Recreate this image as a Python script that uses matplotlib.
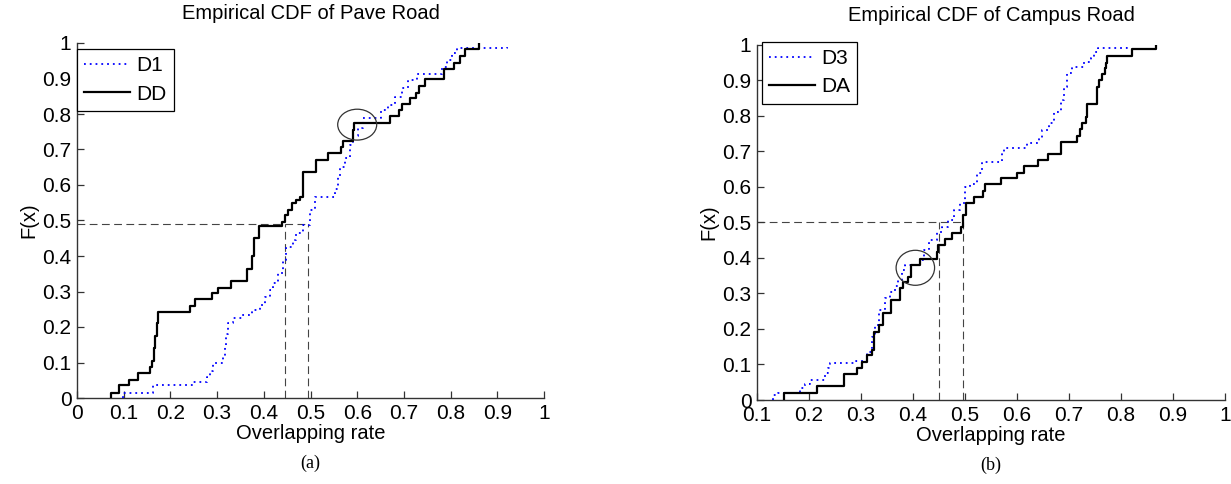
import matplotlib
matplotlib.use("Agg")
import matplotlib.pyplot as plt
from matplotlib.patches import Ellipse
from matplotlib.ticker import FuncFormatter, MultipleLocator

plt.rcParams['font.family'] = ['Liberation Sans', 'DejaVu Sans']

# ---------------- data (step points of the empirical CDFs) ----------------
# Panel (a): Pave Road
x_d1 = [0.099, 0.099, 0.163, 0.249, 0.278, 0.285, 0.292, 0.313, 0.317, 0.320,
        0.323, 0.335, 0.353, 0.374, 0.392, 0.403, 0.413, 0.420, 0.431, 0.442,
        0.448, 0.463, 0.470, 0.485, 0.499, 0.510, 0.552, 0.558, 0.563, 0.574,
        0.585, 0.592, 0.602, 0.613, 0.652, 0.667, 0.681, 0.695, 0.709, 0.727,
        0.781, 0.792, 0.802, 0.813, 0.920]
y_d1 = [0.000, 0.015, 0.037, 0.046, 0.060, 0.075, 0.098, 0.116, 0.150, 0.180,
        0.210, 0.224, 0.234, 0.248, 0.262, 0.285, 0.304, 0.323, 0.351, 0.389,
        0.426, 0.445, 0.464, 0.487, 0.530, 0.567, 0.590, 0.623, 0.652, 0.675,
        0.713, 0.738, 0.760, 0.790, 0.811, 0.825, 0.849, 0.872, 0.896, 0.913,
        0.933, 0.952, 0.971, 0.985, 0.990]

x_dd = [0.072, 0.072, 0.091, 0.112, 0.131, 0.156, 0.161, 0.165, 0.168, 0.171,
        0.174, 0.242, 0.253, 0.290, 0.301, 0.329, 0.363, 0.375, 0.378, 0.390,
        0.438, 0.445, 0.452, 0.460, 0.470, 0.477, 0.483, 0.512, 0.538, 0.565,
        0.569, 0.590, 0.593, 0.670, 0.690, 0.695, 0.713, 0.726, 0.733, 0.745,
        0.786, 0.807, 0.820, 0.831, 0.861]
y_dd = [0.000, 0.015, 0.037, 0.051, 0.070, 0.088, 0.105, 0.140, 0.175, 0.210,
        0.243, 0.259, 0.278, 0.295, 0.311, 0.330, 0.362, 0.400, 0.450, 0.485,
        0.497, 0.515, 0.530, 0.550, 0.558, 0.567, 0.637, 0.670, 0.689, 0.708,
        0.725, 0.755, 0.776, 0.794, 0.811, 0.828, 0.844, 0.860, 0.879, 0.898,
        0.928, 0.944, 0.963, 0.982, 1.000]

# Panel (b): Campus Road
x_d3 = [0.131, 0.131, 0.140, 0.183, 0.192, 0.202, 0.231, 0.236, 0.241, 0.290,
        0.311, 0.321, 0.327, 0.334, 0.347, 0.356, 0.366, 0.372, 0.379, 0.385,
        0.414, 0.422, 0.430, 0.446, 0.456, 0.468, 0.478, 0.491, 0.500, 0.510,
        0.523, 0.533, 0.571, 0.575, 0.620, 0.642, 0.649, 0.661, 0.671, 0.684,
        0.690, 0.697, 0.706, 0.728, 0.742, 0.748, 0.755, 0.812]
y_d3 = [0.000, 0.014, 0.020, 0.033, 0.045, 0.056, 0.075, 0.090, 0.103, 0.110,
        0.136, 0.178, 0.211, 0.253, 0.286, 0.305, 0.321, 0.338, 0.366, 0.380,
        0.394, 0.422, 0.450, 0.474, 0.488, 0.506, 0.535, 0.553, 0.600, 0.609,
        0.638, 0.671, 0.694, 0.708, 0.722, 0.736, 0.760, 0.778, 0.811, 0.844,
        0.881, 0.919, 0.938, 0.952, 0.961, 0.980, 0.990, 0.996]

x_da = [0.152, 0.152, 0.215, 0.268, 0.292, 0.302, 0.311, 0.321, 0.325, 0.334,
        0.342, 0.357, 0.375, 0.381, 0.390, 0.396, 0.414, 0.447, 0.449, 0.462,
        0.475, 0.492, 0.497, 0.502, 0.517, 0.534, 0.539, 0.570, 0.600, 0.613,
        0.640, 0.659, 0.684, 0.716, 0.721, 0.725, 0.732, 0.735, 0.753, 0.758,
        0.764, 0.769, 0.771, 0.774, 0.822, 0.867]
y_da = [0.000, 0.021, 0.039, 0.073, 0.089, 0.108, 0.127, 0.141, 0.192, 0.211,
        0.244, 0.281, 0.314, 0.333, 0.347, 0.380, 0.396, 0.417, 0.436, 0.452,
        0.469, 0.488, 0.520, 0.553, 0.572, 0.588, 0.608, 0.624, 0.640, 0.659,
        0.675, 0.692, 0.727, 0.743, 0.762, 0.780, 0.795, 0.833, 0.882, 0.900,
        0.917, 0.933, 0.949, 0.968, 0.987, 1.000]

# guide lines (median markers) and highlight circles
a_level = 0.49
a_marks = [0.445, 0.495]
a_circle = (0.600, 0.770, 0.0835, 0.087)
b_level = 0.50
b_marks = [0.450, 0.497]
b_circle = (0.4045, 0.372, 0.074, 0.0985)

titles = ["Empirical CDF of Pave Road", "Empirical CDF of Campus Road"]
captions = ["(a)", "(b)"]
xlims = [(0.0, 1.0), (0.1, 1.0)]

# ---------------- figure ----------------
W, H = 1231, 484
fig = plt.figure(figsize=(W / 100, H / 100), dpi=100)
axA = fig.add_axes([77 / W, (H - 398) / H, 467 / W, 355 / H])
axB = fig.add_axes([757 / W, (H - 400) / H, 468 / W, 355.4 / H])

FS = 14.5
spine_c = '#333333'
guide_c = '#444444'
fmt = FuncFormatter(lambda v, p: ('%g' % round(v, 2)))


def style(ax, xlim, title, caption):
    ax.set_xlim(*xlim)
    ax.set_ylim(0, 1)
    ax.xaxis.set_major_locator(MultipleLocator(0.1))
    ax.yaxis.set_major_locator(MultipleLocator(0.1))
    ax.xaxis.set_major_formatter(fmt)
    ax.yaxis.set_major_formatter(fmt)
    for s in ['top', 'right']:
        ax.spines[s].set_visible(False)
    for s in ['left', 'bottom']:
        ax.spines[s].set_color(spine_c)
        ax.spines[s].set_linewidth(1.0)
    ax.tick_params(direction='in', length=5, width=0.9, color=spine_c,
                   labelsize=15, pad=4)
    ax.set_title(title, fontsize=FS, pad=17)
    ax.set_xlabel("Overlapping rate", fontsize=FS, labelpad=1)
    ax.set_ylabel("F(x)", fontsize=FS, labelpad=3)
    ax.text(0.5, -0.16, caption, transform=ax.transAxes, ha='center',
            va='top', fontsize=13, family=['Liberation Serif', 'DejaVu Serif'])


def guides(ax, x0, level, marks, circle):
    ax.plot([x0, max(marks)], [level, level], color=guide_c, lw=0.8,
            ls=(0, (7, 4)), zorder=1)
    for m in marks:
        ax.plot([m, m], [0, level], color=guide_c, lw=0.8, ls=(0, (7, 4)),
                zorder=1)
    cx, cy, w, h = circle
    ax.add_patch(Ellipse((cx, cy), w, h, fill=False, edgecolor='#333333',
                         lw=0.9, zorder=4))


def leg(ax, anchor):
    lg = ax.legend(loc='upper left', bbox_to_anchor=anchor, borderaxespad=0,
                   fontsize=15, fancybox=False, framealpha=1, edgecolor='black',
                   handlelength=2.2, handletextpad=0.3, labelspacing=0.45,
                   borderpad=0.35)
    lg.get_frame().set_linewidth(0.9)


# panel (a)
guides(axA, 0.0, a_level, a_marks, a_circle)
axA.plot(x_d1, y_d1, drawstyle='steps-post', color='#0000ff', lw=1.3,
         ls=(0, (1, 2.2)), label='D1', zorder=3)
axA.plot(x_dd, y_dd, drawstyle='steps-post', color='black', lw=1.6,
         label='DD', zorder=3)
style(axA, xlims[0], titles[0], captions[0])
leg(axA, (0.0, 0.983))

# panel (b)
guides(axB, 0.1, b_level, b_marks, b_circle)
axB.plot(x_d3, y_d3, drawstyle='steps-post', color='#0000ff', lw=1.3,
         ls=(0, (1, 2.2)), label='D3', zorder=3)
axB.plot(x_da, y_da, drawstyle='steps-post', color='black', lw=1.6,
         label='DA', zorder=3)
style(axB, xlims[1], titles[1], captions[1])
leg(axB, (0.01, 1.008))

fig.savefig("out.png", dpi=100)
